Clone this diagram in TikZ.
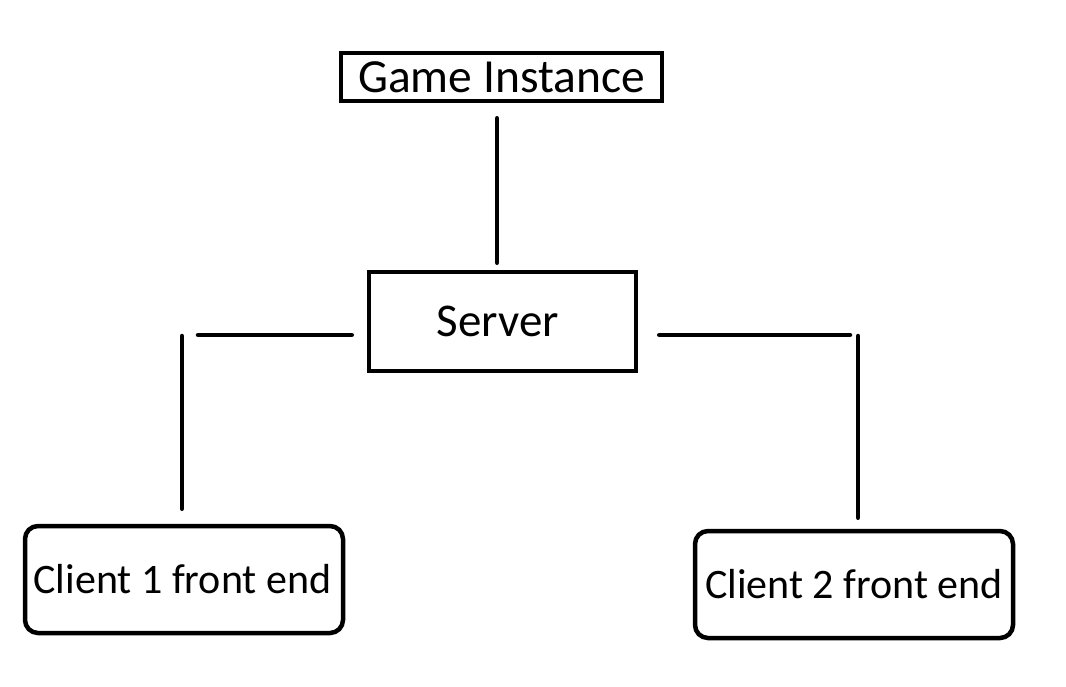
\documentclass[tikz,border=0pt]{standalone}
\usepackage{fontspec}
\setmainfont{Carlito}

\begin{document}
\begin{tikzpicture}[x=1pt, y=-1pt, line width=4.5pt,
  box/.style = {shape=rectangle, draw, inner sep=0pt, align=center},
  round box/.style = {box, rounded corners=13pt},
  link/.style = {line cap=round}]
    \useasboundingbox (0,0) rectangle (1066,686);
    \node[box, minimum width=321pt, minimum height=48pt,
      font=\fontsize{47.5}{50}\selectfont] (game) at (501.5,77) {Game Instance};
    \node[box, minimum width=267pt, minimum height=99pt,
      font=\fontsize{47}{50}\selectfont] (server) at (502.5,321.5) {\hspace*{-9pt}Server};
    \node[round box, minimum width=318pt, minimum height=107pt,
      font=\fontsize{42}{50}\selectfont] (client1) at (184,579.5) {\hspace*{-3pt}Client 1 front end};
    \node[round box, minimum width=318pt, minimum height=107pt,
      font=\fontsize{42}{50}\selectfont] (client2) at (854,584.5) {Client 2 front end};
    \coordinate (lc) at (182,335);
    \coordinate (rc) at (858,335);
    \draw[link, shorten <=15pt, shorten >=7pt] ([xshift=-4.5pt]game.south) -- ([xshift=-5.5pt]server.north);
    \draw[link, shorten <=15pt, shorten >=16pt] (server.west |- lc) -- (lc);
    \draw[link, shorten <=1pt, shorten >=15pt] (lc) -- (lc |- client1.north);
    \draw[link, shorten <=21pt, shorten >=8pt] (server.east |- rc) -- (rc);
    \draw[link, shorten <=1pt, shorten >=11pt] (rc) -- (rc |- client2.north);
\end{tikzpicture}
\end{document}
